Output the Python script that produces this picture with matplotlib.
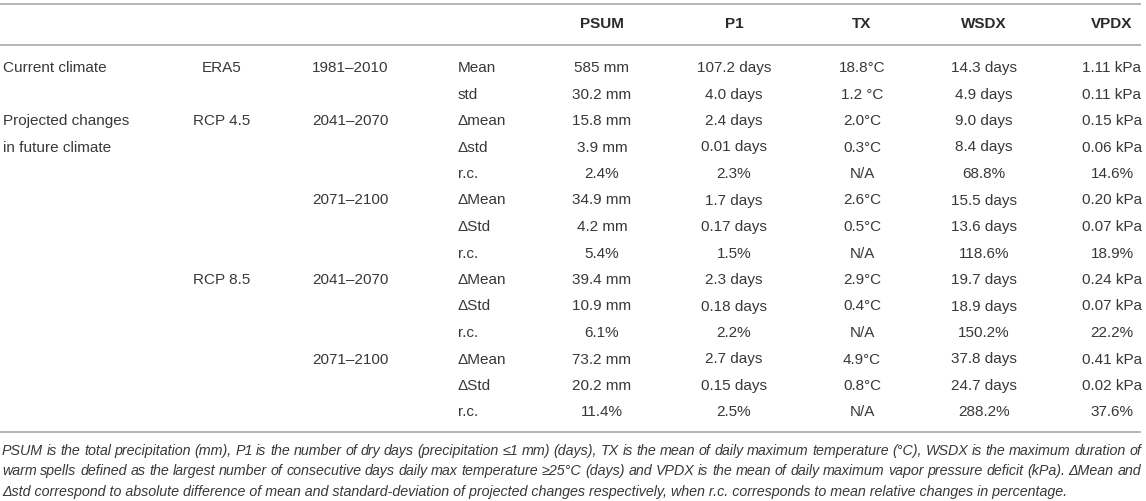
import matplotlib
matplotlib.use("Agg")
import matplotlib.pyplot as plt
from matplotlib import font_manager

# ---- table content ----
columns = ["PSUM", "P1", "TX", "WSDX", "VPDX"]
stats = ["Mean", "std", "Δmean", "Δstd", "r.c.",
         "ΔMean", "ΔStd", "r.c.",
         "ΔMean", "ΔStd", "r.c.",
         "ΔMean", "ΔStd", "r.c."]
psum = ["585 mm", "30.2 mm", "15.8 mm", "3.9 mm", "2.4%", "34.9 mm", "4.2 mm", "5.4%",
        "39.4 mm", "10.9 mm", "6.1%", "73.2 mm", "20.2 mm", "11.4%"]
p1 = ["107.2 days", "4.0 days", "2.4 days", "0.01 days", "2.3%", "1.7 days", "0.17 days", "1.5%",
      "2.3 days", "0.18 days", "2.2%", "2.7 days", "0.15 days", "2.5%"]
tx = ["18.8°C", "1.2 °C", "2.0°C", "0.3°C", "N/A", "2.6°C", "0.5°C", "N/A",
      "2.9°C", "0.4°C", "N/A", "4.9°C", "0.8°C", "N/A"]
wsdx = ["14.3 days", "4.9 days", "9.0 days", "8.4 days", "68.8%", "15.5 days", "13.6 days", "118.6%",
        "19.7 days", "18.9 days", "150.2%", "37.8 days", "24.7 days", "288.2%"]
vpdx = ["1.11 kPa", "0.11 kPa", "0.15 kPa", "0.06 kPa", "14.6%", "0.20 kPa", "0.07 kPa", "18.9%",
        "0.24 kPa", "0.07 kPa", "22.2%", "0.41 kPa", "0.02 kPa", "37.6%"]

# (row index, text)
groups = [(0, "Current climate"), (2, "Projected changes\nin future climate")]
sources = [(0, "ERA5"), (2, "RCP 4.5"), (8, "RCP 8.5")]
periods = [(0, "1981–2010"), (2, "2041–2070"), (5, "2071–2100"), (8, "2041–2070"), (11, "2071–2100")]

footnote = [
    "PSUM is the total precipitation (mm), P1 is the number of dry days (precipitation ≤1 mm) (days), "
    "TX is the mean of daily maximum temperature (°C), WSDX is the maximum duration of",
    "warm spells defined as the largest number of consecutive days daily max temperature ≥25°C (days) "
    "and VPDX is the mean of daily maximum vapor pressure deficit (kPa). ΔMean and",
    "Δstd correspond to absolute difference of mean and standard-deviation of projected changes "
    "respectively, when r.c. corresponds to mean relative changes in percentage.",
]

# ---- layout (pixels) ----
W, H = 1146, 501
TXT = "#383838"
LINE = "#b5b5b5"
names = {f.name for f in font_manager.fontManager.ttflist}
FAM = ["Liberation Sans", "DejaVu Sans"]
NARROW = ["Liberation Sans Narrow", "Liberation Sans", "DejaVu Sans"] if "Liberation Sans Narrow" in names else FAM

fig = plt.figure(figsize=(W / 100, H / 100), dpi=100)
ax = fig.add_axes([0, 0, 1, 1])
ax.set_xlim(0, W)
ax.set_ylim(H, 0)
ax.axis("off")

row_y0, row_dy = 68, 26.5
col_x = [602, 734, 862, 984, 1112]
fs = 11

for y in (4, 45, 432):
    ax.plot([0, 1141], [y, y], color=LINE, lw=1.4, solid_capstyle="butt")

for cx, name in zip(col_x, columns):
    ax.text(cx, 23.5, name, ha="center", va="center", fontsize=fs, fontweight="bold",
            color="#2a2a2a", family=FAM)

for r, t in groups:
    for k, part in enumerate(t.split("\n")):
        ax.text(3, row_y0 + (r + k) * row_dy, part, ha="left", va="center",
                fontsize=fs, color=TXT, family=FAM)
for r, t in sources:
    ax.text(222, row_y0 + r * row_dy, t, ha="center", va="center", fontsize=fs, color=TXT, family=FAM)
for r, t in periods:
    ax.text(350, row_y0 + r * row_dy, t, ha="center", va="center", fontsize=fs, color=TXT, family=FAM)

for i, s in enumerate(stats):
    y = row_y0 + i * row_dy
    ax.text(458, y, s, ha="left", va="center", fontsize=fs, color=TXT, family=FAM)
    for cx, col in zip(col_x, [psum, p1, tx, wsdx, vpdx]):
        ax.text(cx, y, col[i], ha="center", va="center", fontsize=fs, color=TXT, family=FAM)

# footnote, justified for the first two lines
fig.canvas.draw()
rend = fig.canvas.get_renderer()
right = 1141
for k, line in enumerate(footnote):
    y = 451 + k * 20.3
    words = line.split(" ")
    kw = dict(va="center", ha="left", fontsize=10.3, style="italic", color=TXT, family=NARROW)
    if k == len(footnote) - 1:
        ax.text(2, y, line, **kw)
        continue
    arts = [ax.text(0, y, w, **kw) for w in words]
    widths = [a.get_window_extent(rend).width for a in arts]
    gap = (right - 2 - sum(widths)) / (len(words) - 1)
    x = 2
    for a, w in zip(arts, widths):
        a.set_x(x)
        x += w + gap

fig.savefig("out.png", dpi=100, facecolor="white")
